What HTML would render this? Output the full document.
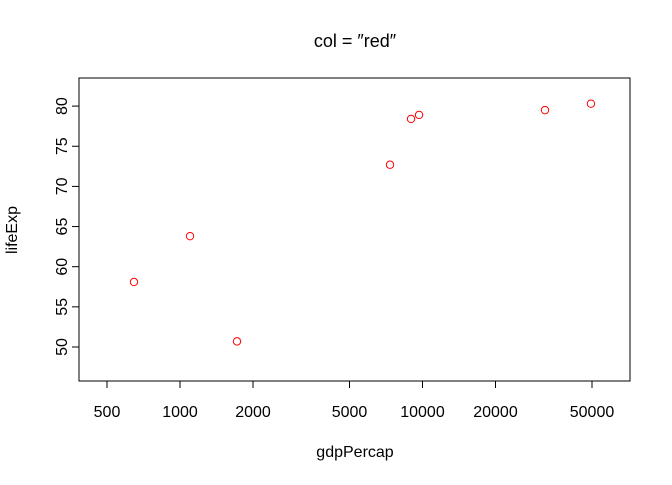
<!DOCTYPE html>
<html><head><meta charset="utf-8"><style>
html,body{margin:0;padding:0;background:#fff;}
svg text{font-family:"Liberation Sans",sans-serif;font-size:16px;fill:#000;}
</style></head><body>
<svg id="chart" width="672" height="480" xmlns="http://www.w3.org/2000/svg">
<text x="355" y="47" text-anchor="middle" style="font-size:18px">col = ″red″</text>
<rect x="79" y="78" width="551" height="303" fill="none" stroke="#000" stroke-width="1"/>
<text x="355" y="457" text-anchor="middle">gdpPercap</text>
<text transform="translate(17,230) rotate(-90)" text-anchor="middle">lifeExp</text>
<g id="g"></g>
</svg>
<script>
const gdp = [646, 1100, 1718, 7345, 8970, 9680, 32000, 49500];
const life = [58.1, 63.8, 50.7, 72.7, 78.4, 78.9, 79.5, 80.3];
const xTicks = [500, 1000, 2000, 5000, 10000, 20000, 50000];
const yTicks = [50, 55, 60, 65, 70, 75, 80];
const NS = "http://www.w3.org/2000/svg";
const g = document.getElementById('g');
function xs(v){ return 107 + (Math.log10(v) - Math.log10(500)) * 242.5; }
function ys(v){ return 347 - (v - 50) * 8.03; }
function mk(t, a){ const e = document.createElementNS(NS, t); for (const k in a) e.setAttribute(k, a[k]); g.appendChild(e); return e; }
xTicks.forEach(t => {
  const x = xs(t);
  const l = mk('line', {x1:x, x2:x, y1:381, y2:388, stroke:'#000'});
  
  
  const tx = mk('text', {x:x, y:417, 'text-anchor':'middle'});
  tx.textContent = t;
  
  
});
yTicks.forEach(t => {
  const y = ys(t);
  const l = mk('line', {x1:72, x2:79, y1:y, y2:y, stroke:'#000'});
  
  
  const tx = mk('text', {transform:'translate(67,' + y + ') rotate(-90)', 'text-anchor':'middle'});
  tx.textContent = t;
  
  
});
gdp.forEach((v, i) => {
  const c = mk('circle', {cx:xs(v), cy:ys(life[i]), r:3.7, fill:'none', stroke:'#ff0000', 'stroke-width':1});
  
  
});
</script>
</body></html>
